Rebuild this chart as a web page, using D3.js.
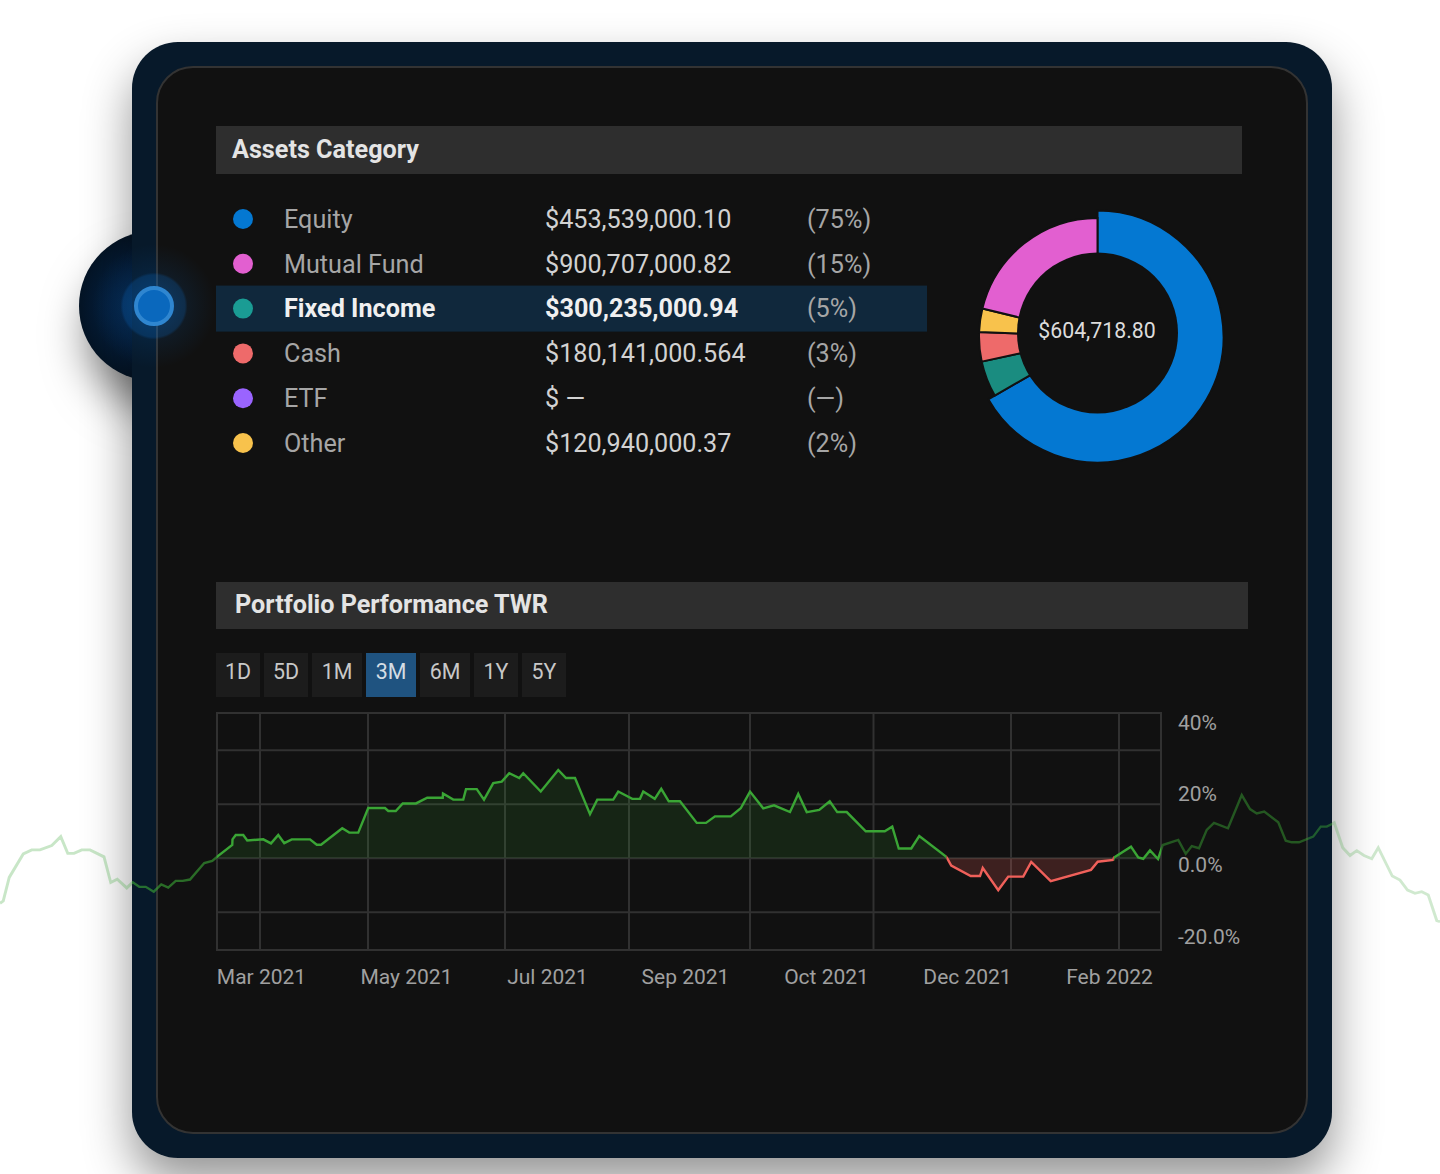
<!DOCTYPE html>
<html>
<head>
<meta charset="utf-8">
<title>Assets Category</title>
<script src="https://cdn.jsdelivr.net/npm/d3@7"></script>
<style>
  html, body { margin: 0; padding: 0; background: #fff; }
  svg { display: block; font-family: Roboto, sans-serif; }
</style>
</head>
<body>
<svg width="1440" height="1174" viewBox="0 0 1440 1174"></svg>
<script>
// ---- Dados
const categories = ['Equity', 'Mutual Fund', 'Fixed Income', 'Cash', 'ETF', 'Other'];
const amounts = ['$453,539,000.10', '$900,707,000.82', '$300,235,000.94', '$180,141,000.564', '$ \u2014', '$120,940,000.37'];
const shares = ['(75%)', '(15%)', '(5%)', '(3%)', '(\u2014)', '(2%)'];
const categoryColors = ['#0478d2', '#e25fd0', '#1a9c94', '#ee6a6a', '#9a64ff', '#f8c24c'];

// donut order and slice sizes (clockwise from the top)
const donutNames = ['Equity', 'Fixed Income', 'Cash', 'Other', 'Mutual Fund'];
const donutShares = [66.7, 4.9, 4.0, 3.2, 21.2];
const donutColors = ['#0478d2', '#1a8c80', '#ee6a6a', '#f8c24c', '#e25fd0'];
const donutTotal = '$604,718.80';

const ranges = ['1D', '5D', '1M', '3M', '6M', '1Y', '5Y'];
const activeRange = '3M';

const yLabels = ['40%', '20%', '0.0%', '-20.0%'];
const yGrid = [40, 20, 0, -20];
const monthLabels = ['Mar 2021', 'May 2021', 'Jul 2021', 'Sep 2021', 'Oct 2021', 'Dec 2021', 'Feb 2022'];
const monthLabelDays = [0.4, 58.4, 114.8, 170, 226.4, 282.8, 339.6];
const gridDays = [0, 43.2, 98, 147.6, 196, 245.4, 300.4, 343.6];
// stretch of the series drawn in red
const lossDays = [274.6, 341.5];

// days since the first tick, and the return in % on that day
const twrDays = [-104, -102.7, -100.3, -94.7, -91.3, -88, -83.3, -79.7, -76.9, -74.4, -71.3, -68, -62.4, -59.7, -57.1, -53.3, -50.9, -48.3, -45.7, -42.5, -39.5, -36.7, -33.7, -30.9, -28, -22.3, -19.1, -17.1, -11.1, -11, -9.7, -6.7, -5.1, 1.3, 4.4, 7.3, 9.7, 12.7, 20, 22.7, 24.4, 32.9, 35.7, 39.3, 43.3, 50, 51.3, 54.3, 57.1, 62.4, 66.9, 73.1, 73.2, 77.3, 81.3, 82.4, 86.7, 89.6, 93.3, 96.7, 99.7, 103.7, 105.3, 112.3, 119.3, 122.4, 126, 132, 134.9, 141.3, 143.3, 148.9, 152, 153.3, 157.9, 160.5, 163.5, 168, 174.7, 178.4, 182, 188.3, 192.3, 196, 201.3, 205.6, 212, 215.3, 218.7, 223.7, 227.9, 230.9, 234.7, 242.3, 249.9, 252.9, 255.5, 260.5, 263.7, 274.4, 274.9, 276.5, 284.3, 288, 289.1, 295.3, 299.3, 305.3, 308.5, 316.3, 332.4, 335.1, 341.3, 341.6, 348.4, 351.3, 353.3, 356, 359.2, 361.1, 367.3, 370.3, 372.7, 375.6, 378.7, 381.6, 387.2, 392.7, 396, 398.7, 401.7, 407.3, 410.3, 412.7, 415.6, 421.3, 424.3, 426.7, 429.7, 433.1, 436, 438.7, 441.6, 444.7, 447.3, 452.9, 456, 459, 462, 464.7, 467.3, 470.7, 472];
const twrValues = [-16.7, -15.8, -7.1, 1.6, 3.1, 3.1, 4.7, 8, 1.8, 1.8, 3.1, 3.1, 0.5, -9, -7.8, -11, -8.9, -10.6, -10.6, -12.4, -9.7, -10.9, -8.4, -8.4, -7.9, -1.8, -1, 0.6, 4.9, 7, 8.6, 8.6, 6.6, 7, 5.5, 8.6, 5.6, 7, 7, 5, 5, 11.1, 9.5, 9.5, 18.6, 18.6, 17.5, 17.5, 20.3, 20.3, 22.4, 22.4, 24, 21.7, 21.7, 25.6, 25.6, 21.7, 27.8, 28.4, 31.5, 29.7, 31.5, 24.7, 32.7, 29.7, 29.7, 16.3, 21.7, 21.7, 24.7, 22, 22, 24.7, 22, 25.7, 21.1, 21.1, 13.1, 13.1, 15.5, 15.5, 18.5, 24.7, 18.5, 19.6, 17.1, 23.8, 17.1, 17.9, 21.1, 17.1, 17.1, 10, 10, 11.7, 3.6, 3.6, 8.2, 0.6, -0.1, -2.7, -6.6, -6.6, -3.6, -11.8, -6.8, -6.8, -1.4, -8.5, -4.3, -1.3, -0.6, 0.3, 4.3, 0.3, -0.2, 2.9, -0.3, 4.9, 6.8, 1.6, 4.5, 3.7, 10.5, 13.1, 11.1, 23.4, 18.2, 16.6, 17.3, 13.3, 6.5, 5.9, 5.9, 8, 11.7, 11.7, 13.1, 3.9, 1, 2.8, 1, -0.2, 3.9, -6.6, -8.1, -11.8, -13, -12.4, -13.6, -23.1, -23.5];

const twr = twrDays.map((d, i) => ({ day: d, value: twrValues[i] }));

const svg = d3.select('svg');
const defs = svg.append('defs');

// ---- Sombra e brilho
const shadow = defs.append('filter').attr('id', 'shadow')
    .attr('color-interpolation-filters', 'sRGB')
    .attr('x', '-20%').attr('y', '-20%').attr('width', '140%').attr('height', '140%');
shadow.append('feDropShadow').attr('dx', 0).attr('dy', 24).attr('stdDeviation', 24)
    .attr('flood-color', '#000').attr('flood-opacity', 0.42);

const knobShadow = defs.append('filter').attr('id', 'knobShadow')
    .attr('color-interpolation-filters', 'sRGB')
    .attr('x', '-60%').attr('y', '-60%').attr('width', '220%').attr('height', '220%');
knobShadow.append('feDropShadow').attr('dx', 8).attr('dy', 28).attr('stdDeviation', 22)
    .attr('flood-color', '#000').attr('flood-opacity', 0.5);

const knobFill = defs.append('radialGradient').attr('id', 'knobFill');
knobFill.append('stop').attr('offset', '0%').attr('stop-color', '#08305a');
knobFill.append('stop').attr('offset', '55%').attr('stop-color', '#052040');
knobFill.append('stop').attr('offset', '100%').attr('stop-color', '#041425');

const glow = defs.append('radialGradient').attr('id', 'glow');
glow.append('stop').attr('offset', '0%').attr('stop-color', '#0a6fd0').attr('stop-opacity', 0.45);
glow.append('stop').attr('offset', '50%').attr('stop-color', '#0a6fd0').attr('stop-opacity', 0.3);
glow.append('stop').attr('offset', '54%').attr('stop-color', '#0a6fd0').attr('stop-opacity', 0.1);
glow.append('stop').attr('offset', '100%').attr('stop-color', '#0a6fd0').attr('stop-opacity', 0);

// ---- Cartao
svg.append('circle').attr('cx', 154).attr('cy', 306).attr('r', 75)
    .attr('fill', 'url(#knobFill)').attr('filter', 'url(#knobShadow)');
svg.append('rect').attr('x', 132).attr('y', 42).attr('width', 1200).attr('height', 1116).attr('rx', 46)
    .attr('fill', '#07192a').attr('filter', 'url(#shadow)');
svg.append('rect').attr('x', 157).attr('y', 67).attr('width', 1150).attr('height', 1066).attr('rx', 36)
    .attr('fill', '#111').attr('stroke', '#333').attr('stroke-width', 2);

// ---- Assets Category
function sectionBar(x, y, w, h, textX, label) {
    svg.append('rect').attr('x', x).attr('y', y).attr('width', w).attr('height', h).attr('fill', '#2e2e2e');
    svg.append('text').attr('x', textX).attr('y', y + h / 2 - 1).attr('dy', '0.35em')
        .attr('fill', '#e4e4e4').attr('font-size', 25.2).attr('font-weight', 700).text(label);
}
sectionBar(216, 126, 1026, 48, 232, 'Assets Category');

const rowY = d3.scalePoint().domain(categories).range([219, 443]);
const highlighted = 'Fixed Income';

svg.append('rect').attr('x', 216).attr('y', rowY(highlighted) - 23).attr('width', 711).attr('height', 46)
    .attr('fill', '#10283c');

const rows = svg.selectAll('.row').data(categories).join('g')
    .attr('class', 'row')
    .attr('transform', d => `translate(0, ${rowY(d)})`);

rows.append('circle').attr('cx', 243).attr('r', 10).attr('fill', (d, i) => categoryColors[i]);
rows.append('text').attr('x', 284).attr('dy', '0.35em').attr('font-size', 25.2)
    .attr('fill', d => d === highlighted ? '#f0f0f0' : '#a6a6a6')
    .attr('font-weight', d => d === highlighted ? 700 : 400)
    .text(d => d);
rows.append('text').attr('x', 545).attr('dy', '0.35em').attr('font-size', 25.2)
    .attr('fill', d => d === highlighted ? '#f0f0f0' : '#d2d2d2')
    .attr('font-weight', d => d === highlighted ? 700 : 400)
    .text((d, i) => amounts[i]);
rows.append('text').attr('x', 807).attr('dy', '0.35em').attr('font-size', 25.2)
    .attr('fill', '#a6a6a6')
    .text((d, i) => shares[i]);

// ---- Donut
const pie = d3.pie().sort(null).value(d => d.share);
const donutData = pie(donutNames.map((name, i) => ({ name, share: donutShares[i], color: donutColors[i] })));
const donut = svg.append('g').attr('transform', 'translate(1097.5, 336.5)');
donut.selectAll('path').data(donutData).join('path')
    .attr('d', d => d3.arc().innerRadius(70).outerRadius(d.data.name === 'Equity' ? 126 : 118.5)(d))
    .attr('fill', d => d.data.color)
    .attr('stroke', '#111').attr('stroke-width', 2);
svg.append('circle').attr('cx', 1097.5).attr('cy', 333).attr('r', 80.5).attr('fill', '#111');
svg.append('text').attr('x', 1097).attr('y', 331).attr('dy', '0.35em').attr('text-anchor', 'middle')
    .attr('fill', '#dcdcdc').attr('font-size', 21.3).text(donutTotal);

// ---- Brilho do marcador (por cima do cartao)
svg.append('circle').attr('cx', 154).attr('cy', 306).attr('r', 62).attr('fill', 'url(#glow)');
svg.append('circle').attr('cx', 154).attr('cy', 306).attr('r', 18)
    .attr('fill', '#0a68bd').attr('stroke', '#2f86d0').attr('stroke-width', 4);

// ---- Portfolio Performance
sectionBar(216, 582, 1032, 47, 235, 'Portfolio Performance TWR');

const rangeWidths = ranges.map(r => r.endsWith('M') ? 50 : 44);
let rangeX = 216;
ranges.forEach((r, i) => {
    const active = r === activeRange;
    svg.append('rect').attr('x', rangeX).attr('y', 653).attr('width', rangeWidths[i]).attr('height', 44)
        .attr('fill', active ? '#1f5380' : '#1c1c1c');
    svg.append('text').attr('x', rangeX + rangeWidths[i] / 2).attr('y', 672).attr('dy', '0.35em')
        .attr('text-anchor', 'middle').attr('font-size', 21.4)
        .attr('fill', active ? '#d4dde4' : '#c8c8c8').text(r);
    rangeX += rangeWidths[i] + 4;
});

// ---- Escalas
const mapX = d3.scaleLinear().domain([-104, 472]).range([0, 1440]);
const mapY = d3.scaleLinear().domain([-34, 53.8]).range([950, 713]);
const plot = { left: 217, right: 1161, top: 713, bottom: 950 };
const zeroY = mapY(0);
const lossLeft = mapX(lossDays[0]);
const lossRight = mapX(lossDays[1]);

// ---- Grade
const grid = svg.append('g').attr('stroke', '#313131').attr('stroke-width', 2);
grid.selectAll('.gx').data(gridDays).join('line').attr('class', 'gx')
    .attr('x1', d => mapX(d)).attr('x2', d => mapX(d)).attr('y1', plot.top).attr('y2', plot.bottom);
grid.selectAll('.gy').data(yGrid).join('line').attr('class', 'gy')
    .attr('x1', plot.left).attr('x2', plot.right).attr('y1', d => mapY(d)).attr('y2', d => mapY(d));
grid.append('rect').attr('x', plot.left).attr('y', plot.top)
    .attr('width', plot.right - plot.left).attr('height', plot.bottom - plot.top).attr('fill', 'none');

// ---- Recortes
function addClip(id, x, y, w, h) {
    defs.append('clipPath').attr('id', id).append('rect')
        .attr('x', x).attr('y', y).attr('width', w).attr('height', h);
}
addClip('plotAll', plot.left, plot.top, plot.right - plot.left, plot.bottom - plot.top);
addClip('plotUp', plot.left, plot.top, plot.right - plot.left, zeroY - plot.top);
addClip('plotLoss', lossLeft, plot.top, lossRight - lossLeft, plot.bottom - plot.top);
addClip('plotGainLeft', plot.left, plot.top, lossLeft - plot.left, plot.bottom - plot.top);
addClip('plotGainRight', lossRight, plot.top, plot.right - lossRight, plot.bottom - plot.top);
addClip('cardLeft', 132, 0, plot.left - 132, 1174);
addClip('cardRight', plot.right, 0, 1332 - plot.right, 1174);
addClip('outLeft', 0, 0, 132, 1174);
addClip('outRight', 1332, 0, 108, 1174);

const line = d3.line().x(d => mapX(d.day)).y(d => mapY(d.value));
const area = d3.area().x(d => mapX(d.day)).y0(zeroY).y1(d => mapY(d.value));

const green = '#3aa535';
const red = '#f0605a';

svg.append('path').datum(twr).attr('d', area).attr('fill', green).attr('opacity', 0.14).attr('clip-path', 'url(#plotUp)');
svg.append('path').datum(twr).attr('d', area).attr('fill', red).attr('opacity', 0.2).attr('clip-path', 'url(#plotLoss)');
['plotGainLeft', 'plotGainRight'].forEach(id => {
    svg.append('path').datum(twr).attr('d', line).attr('fill', 'none')
        .attr('stroke', green).attr('stroke-width', 2.4).attr('clip-path', `url(#${id})`);
});
svg.append('path').datum(twr).attr('d', line).attr('fill', 'none')
    .attr('stroke', red).attr('stroke-width', 2.4).attr('clip-path', 'url(#plotLoss)');

// tails outside the plot fade out
[['cardLeft', 0.62, 2.4], ['cardRight', 0.48, 2.4], ['outLeft', 0.28, 2.9], ['outRight', 0.24, 2.9]].forEach(([id, alpha, width]) => {
    svg.append('path').datum(twr).attr('d', line).attr('fill', 'none')
        .attr('stroke', green).attr('stroke-width', width).attr('opacity', alpha)
        .attr('clip-path', `url(#${id})`);
});

// ---- Eixos
const xAxis = d3.axisBottom(mapX)
    .tickValues(monthLabelDays)
    .tickSize(0)
    .tickFormat((d, i) => monthLabels[i]);
svg.append('g').attr('transform', 'translate(0, 966)').call(xAxis)
    .call(g => g.select('.domain').remove())
    .call(g => g.selectAll('text').attr('font-size', 21).attr('fill', '#a0a0a0').attr('font-family', 'Roboto, sans-serif'));

// the labels do not sit on the grid lines in the source chart
const labelY = d3.scalePoint().domain(yLabels).range([722.5, 936.5]);
const yAxis = d3.axisRight(labelY).tickSize(0).tickPadding(0);
svg.append('g').attr('transform', 'translate(1178, 0)').call(yAxis)
    .call(g => g.select('.domain').remove())
    .call(g => g.selectAll('text').attr('font-size', 21).attr('fill', '#a0a0a0').attr('font-family', 'Roboto, sans-serif'));
</script>
</body>
</html>
